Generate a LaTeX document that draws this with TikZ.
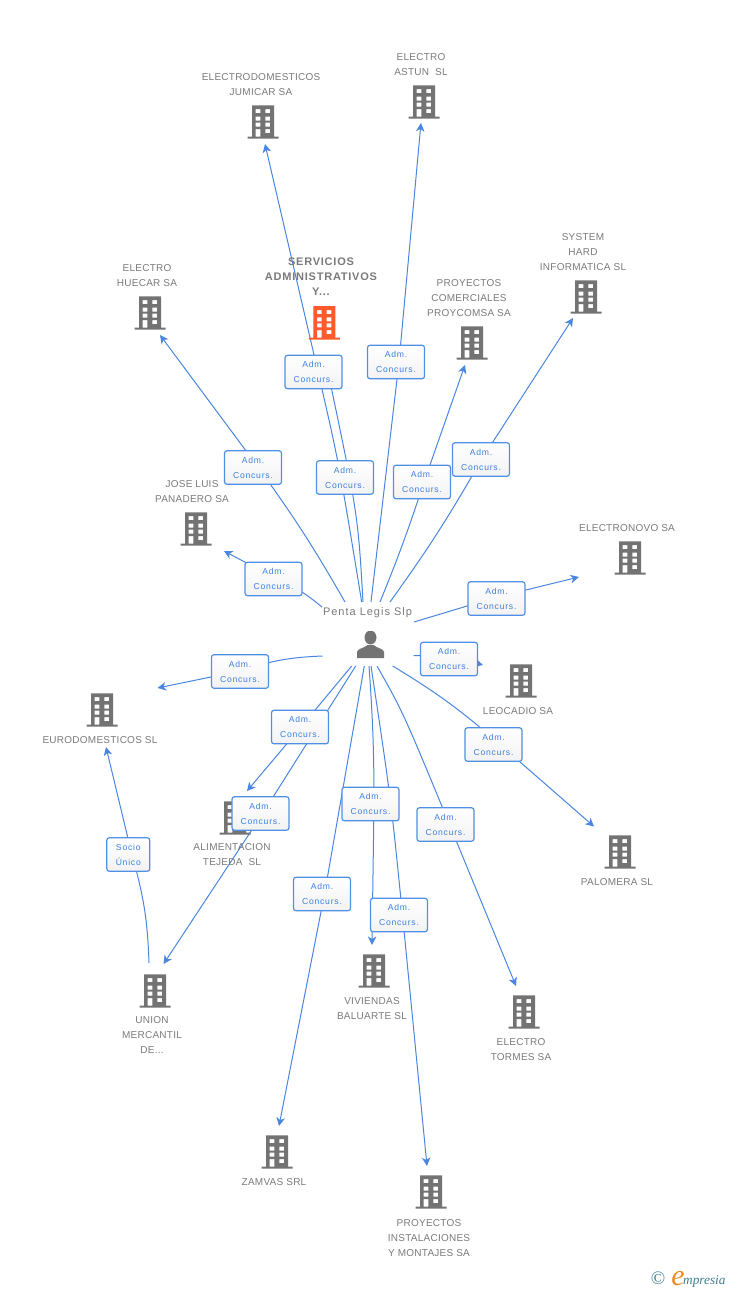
\documentclass[tikz,border=0pt]{standalone}
\usepackage{fontspec}
\setmainfont{Liberation Sans}
\newfontfamily\namefont[LetterSpace=2.5]{Liberation Sans}
\newfontfamily\boldname[LetterSpace=7]{Liberation Sans}
\newfontfamily\perfont[LetterSpace=9]{Liberation Sans}
\newfontfamily\labfont[LetterSpace=9]{Liberation Sans}
\newfontfamily\logofont{Liberation Serif}
\usetikzlibrary{arrows.meta,backgrounds}
\definecolor{iconGray}{HTML}{737373}
\definecolor{iconOrange}{HTML}{FF5A2B}
\definecolor{edgeBlue}{HTML}{4A86E0}
\definecolor{labBlue}{HTML}{4F8FE6}
\definecolor{labText}{HTML}{3C7FE0}
\definecolor{nameGray}{HTML}{7A7A7A}
\definecolor{logoTeal}{HTML}{3F7C92}
\definecolor{logoOrange}{HTML}{F08A24}
\tikzset{
  bldg/.style={minimum width=32pt,minimum height=34pt,inner sep=0pt,outer sep=0pt,
    path picture={
      \begin{scope}[shift={(path picture bounding box.center)}]
      \fill[#1,even odd rule]
        (-15.5,14.7) rectangle (15.5,16.7)
        (-11,-16.7) rectangle (11,14.7)
        (-7.3,-12.8) rectangle (-2.6,-8.8) (2.4,-12.8) rectangle (7,-8.8)
        (-7.3,-5.5) rectangle (-2.6,-1.5) (2.4,-5.5) rectangle (7,-1.5)
        (-7.3,0.5) rectangle (-2.6,4.5) (2.4,0.5) rectangle (7,4.5)
        (-7.3,7.2) rectangle (-2.6,14.7) (2.4,7.2) rectangle (7,11.2);
      \end{scope}}},
  bldg/.default=iconGray,
  co/.style={align=center,text=nameGray,inner sep=0pt,yshift=-0.6pt,font=\namefont\fontsize{10}{15}\selectfont},
  cobold/.style={align=center,text=nameGray,inner sep=0pt,font=\boldname\bfseries\fontsize{11}{15}\selectfont},
  lab/.style={draw=labBlue,line width=1.2pt,rounded corners=2.5pt,top color=white,bottom color=white!95!black,
    minimum width=57pt,minimum height=33.5pt,inner sep=0pt,align=center,text=labText,
    font=\labfont\fontsize{8.6}{15}\selectfont,execute at begin node={\rule{0pt}{8.4pt}}},
  edge/.style={draw=edgeBlue,line width=1pt},
  arr/.style={edge,-{Stealth[length=8.5pt,width=8.5pt,inset=2.5pt]}},
}
\begin{document}
\begin{tikzpicture}[x=1pt,y=-1pt]
\useasboundingbox (0,0) rectangle (728,1290);

% buildings
\node[bldg] (iJumicar) at (263,122) {};
\node[bldg] (iAstun) at (424,102) {};
\node[bldg=iconOrange] (iServ) at (324.3,322.8) {};
\node[bldg] (iHuecar) at (150,313) {};
\node[bldg] (iProy) at (472,343) {};
\node[bldg] (iSystem) at (586,297) {};
\node[bldg] (iPana) at (196,529) {};
\node[bldg] (iNovo) at (630,558) {};
\node[bldg] (iLeo) at (521,681) {};
\node[bldg] (iEuro) at (102,710) {};
\node[bldg] (iAlim) at (235,818) {};
\node[bldg] (iPalo) at (620,852) {};
\node[bldg] (iUnion) at (155,991) {};
\node[bldg] (iViv) at (374,971) {};
\node[bldg] (iTorm) at (524,1012) {};
\node[bldg] (iZam) at (277,1152) {};
\node[bldg] (iInst) at (431,1192) {};

% company names
\node[co] (tJumicar) at (261,83.5) {ELECTRODOMESTICOS\\JUMICAR SA};
\node[co] (tAstun) at (421,63.5) {ELECTRO\\ASTUN\ \ SL};
\node[cobold] (tServ) at (321,277) {SERVICIOS\\ADMINISTRATIVOS\\Y...};
\node[co] (tHuecar) at (147,274.5) {ELECTRO\\HUECAR SA};
\node[co] (tProy) at (469,297) {PROYECTOS\\COMERCIALES\\PROYCOMSA SA};
\node[co] (tSystem) at (583,251) {SYSTEM\\HARD\\INFORMATICA SL};
\node[co] (tPana) at (192,490.5) {JOSE LUIS\\PANADERO SA};
\node[co] (tNovo) at (627,527) {ELECTRONOVO SA};
\node[co] (tLeo) at (518,710) {LEOCADIO SA};
\node[co] (tEuro) at (100,739) {EURODOMESTICOS SL};
\node[co] (tAlim) at (232,854) {ALIMENTACION\\TEJEDA\ \ SL};
\node[co] (tPalo) at (617,881) {PALOMERA SL};
\node[co] (tUnion) at (152,1034.5) {UNION\\MERCANTIL\\DE...};
\node[co] (tViv) at (372,1007.5) {VIVIENDAS\\BALUARTE SL};
\node[co] (tTorm) at (521,1048.5) {ELECTRO\\TORMES SA};
\node[co] (tZam) at (274,1181) {ZAMVAS SRL};
\node[co] (tInst) at (429,1237) {PROYECTOS\\INSTALACIONES\\Y MONTAJES SA};

% person
\node[text=nameGray,inner sep=0pt,font=\perfont\fontsize{11}{13}\selectfont] (tPenta) at (367.5,613) {Penta Legis Slp};
\node[minimum width=28pt,minimum height=28pt,inner sep=0pt,
  path picture={\begin{scope}[shift={(path picture bounding box.center)}]
    \fill[iconGray] (0,-7.5) ellipse (6 and 7);
    \fill[iconGray] (-13.5,13) -- (-13.5,7) .. controls (-13,3.5) and (-7,3.5) .. (-3,0) -- (3,0) .. controls (7,3.5) and (13,3.5) .. (13.5,7) -- (13.5,13) -- cycle;
  \end{scope}}] (person) at (370.5,645) {};

% relation labels
\node[lab] (lJumicar) at (313.5,372) {Adm.\\Concurs.};
\node[lab] (lAstun) at (396,362) {Adm.\\Concurs.};
\node[lab] (lServ) at (345,477.5) {Adm.\\Concurs.};
\node[lab] (lProy) at (422,482) {Adm.\\Concurs.};
\node[lab] (lSystem) at (481,459.5) {Adm.\\Concurs.};
\node[lab] (lHuecar) at (253,467.5) {Adm.\\Concurs.};
\node[lab] (lPana) at (273.5,579) {Adm.\\Concurs.};
\node[lab] (lNovo) at (496.5,598.5) {Adm.\\Concurs.};
\node[lab] (lLeo) at (449,659) {Adm.\\Concurs.};
\node[lab] (lPalo) at (493.5,744.5) {Adm.\\Concurs.};
\node[lab] (lTorm) at (445.5,824.5) {Adm.\\Concurs.};
\node[lab] (lInst) at (399,915) {Adm.\\Concurs.};
\node[lab] (lViv) at (370.5,804) {Adm.\\Concurs.};
\node[lab] (lZam) at (322,894) {Adm.\\Concurs.};
\node[lab] (lAlim) at (300,727) {Adm.\\Concurs.};
\node[lab] (lUnion) at (260.5,813.5) {Adm.\\Concurs.};
\node[lab] (lEuro) at (240,671.5) {Adm.\\Concurs.};
\node[lab,minimum width=43pt] (lSocio) at (128.3,854.5) {Socio\\Único};

% connector ends and the points, hidden behind the labels, that they pass through
\coordinate (sJumicar) at (361.7,602);
\coordinate (wJumicar) at (318,372);
\coordinate (eJumicar) at (265,144);
\coordinate (sServ) at (363,602);
\coordinate (eServ) at (328,372);
\coordinate (sAstun) at (371,602);
\coordinate (wAstun) at (399,362);
\coordinate (eAstun) at (421,123);
\coordinate (sProy) at (380,602);
\coordinate (wProy) at (424,482);
\coordinate (eProy) at (465,365);
\coordinate (sSystem) at (390,602);
\coordinate (wSystem) at (481.5,459.5);
\coordinate (eSystem) at (573,318);
\coordinate (sHuecar) at (345,602);
\coordinate (wHuecar) at (258,467);
\coordinate (eHuecar) at (160,335);
\coordinate (sPana) at (322,607);
\coordinate (wPana) at (273,577);
\coordinate (ePana) at (224,551);
\coordinate (sNovo) at (414,622);
\coordinate (wNovo) at (496,597.3);
\coordinate (eNovo) at (579,577);
\coordinate (sLeo) at (413.5,655.5);
\coordinate (wLeo) at (449,656);
\coordinate (eLeo) at (483,665);
\coordinate (sPalo) at (392.7,666);
\coordinate (wPalo) at (500,744.5);
\coordinate (ePalo) at (594,826.5);
\coordinate (sTorm) at (377,666);
\coordinate (wTorm) at (449.5,824.5);
\coordinate (eTorm) at (516,986);
\coordinate (sInst) at (371,666);
\coordinate (wInst) at (402.5,915);
\coordinate (eInst) at (427,1166);
\coordinate (sViv) at (369,666);
\coordinate (wViv) at (374,804);
\coordinate (eViv) at (372,945);
\coordinate (sZam) at (364.3,666);
\coordinate (wZam) at (324.5,894);
\coordinate (eZam) at (279,1126);
\coordinate (sAlim) at (351.7,666);
\coordinate (wAlim) at (301,727);
\coordinate (eAlim) at (247,791);
\coordinate (sUnion) at (355.7,666);
\coordinate (wUnion) at (263,813);
\coordinate (eUnion) at (163.5,964);
\coordinate (sEuro) at (322.5,656);
\coordinate (wEuro) at (240,671);
\coordinate (eEuro) at (157.5,688);
\coordinate (sSocio) at (149,963);
\coordinate (wSocio) at (132,855);
\coordinate (eSocio) at (106,747);

\begin{scope}[on background layer]
\draw[arr] (sJumicar) .. controls (338.6,461) .. (wJumicar) -- (eJumicar);
\draw[edge] (sServ) .. controls (358,515) .. (eServ);
\draw[arr] (sAstun) -- (wAstun) -- (eAstun);
\draw[arr] (sProy) to[bend right=2] (wProy) -- (eProy);
\draw[arr] (sSystem) to[bend right=3] (wSystem) -- (eSystem);
\draw[arr] (sHuecar) to[bend right=3] (wHuecar) -- (eHuecar);
\draw[arr] (sPana) to[bend right=8] (wPana) -- (ePana);
\draw[arr] (sNovo) -- (wNovo) -- (eNovo);
\draw[arr] (sLeo) -- (wLeo) -- (eLeo);
\draw[arr] (sPalo) to[bend left=5] (wPalo) -- (ePalo);
\draw[arr] (sTorm) .. controls (403,712) .. (wTorm) -- (eTorm);
\draw[arr] (sInst) .. controls (390.8,798) .. (wInst) -- (eInst);
\draw[arr] (sViv) to[bend left=2] (wViv) -- (eViv);
\draw[arr] (sZam) -- (wZam) -- (eZam);
\draw[arr] (sAlim) -- (wAlim) -- (eAlim);
\draw[arr] (sUnion) -- (wUnion) -- (eUnion);
\draw[arr] (sEuro) to[bend right=8] (wEuro) -- (eEuro);
\draw[arr] (sSocio) to[bend right=7] (wSocio) -- (eSocio);
\end{scope}

% logo
\node[text=logoTeal,inner sep=0pt,font=\logofont\fontsize{19}{19}\selectfont] (logoC) at (658,1278.5) {©};
\node[text=logoOrange,inner sep=0pt,anchor=base,font=\logofont\itshape\fontsize{30}{30}\selectfont] (logoE) at (678,1285) {e};
\node[text=logoTeal,inner sep=0pt,anchor=base west,font=\logofont\itshape\fontsize{13.3}{13}\selectfont] (logoT) at (683,1284) {mpresia};
\end{tikzpicture}
\end{document}
